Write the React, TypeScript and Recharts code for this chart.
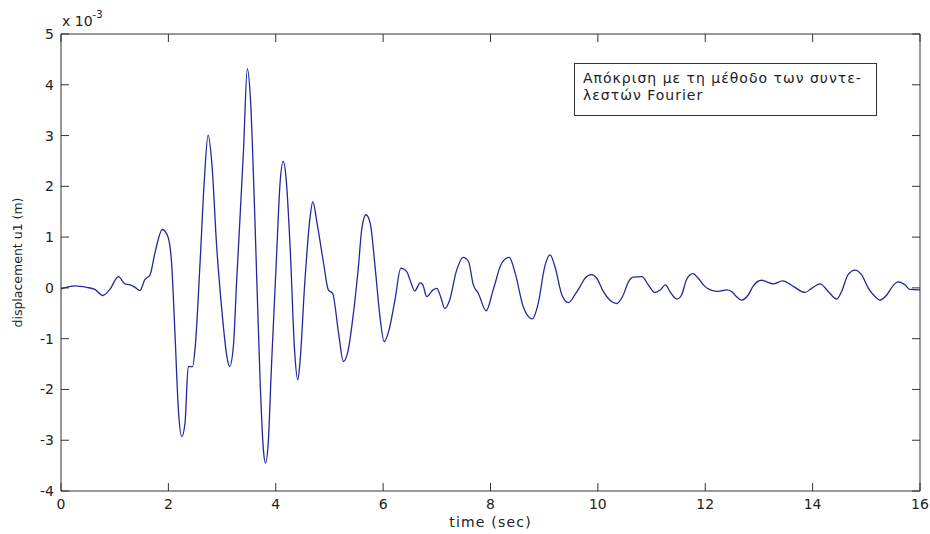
import React from 'react';
import { LineChart, Line, XAxis, YAxis, ReferenceLine, Label } from 'recharts';

// time (sec)
const TIME = [
  0, 0.26, 0.48, 0.63, 0.78, 0.91, 1.07, 1.19, 1.29, 1.38, 1.47, 1.56, 1.66, 1.75, 1.89, 1.99,
  2.06, 2.12, 2.19, 2.25, 2.31, 2.37, 2.45, 2.5, 2.59, 2.67, 2.74, 2.81, 2.9, 2.99, 3.09, 3.14,
  3.21, 3.27, 3.4, 3.47, 3.53, 3.61, 3.71, 3.77, 3.81, 3.86, 3.92, 4.02, 4.08, 4.14, 4.19, 4.27,
  4.35, 4.41, 4.45, 4.54, 4.64, 4.69, 4.77, 4.89, 4.98, 5.06, 5.17, 5.26, 5.35, 5.44, 5.54, 5.6,
  5.68, 5.76, 5.85, 5.94, 6.02, 6.11, 6.22, 6.33, 6.44, 6.5, 6.59, 6.69, 6.74, 6.81, 6.93, 7.0,
  7.07, 7.15, 7.23, 7.37, 7.49, 7.59, 7.68, 7.77, 7.92, 8.05, 8.21, 8.35, 8.46, 8.61, 8.78, 8.89,
  9.01, 9.11, 9.2, 9.33, 9.45, 9.57, 9.67, 9.76, 9.88, 9.98, 10.1, 10.23, 10.35, 10.46, 10.57,
  10.66, 10.82, 10.94, 11.06, 11.16, 11.26, 11.34, 11.47, 11.56, 11.65, 11.77, 11.87, 11.99,
  12.12, 12.24, 12.4, 12.49, 12.58, 12.68, 12.8, 12.89, 13.05, 13.27, 13.44, 13.64, 13.86, 13.98,
  14.14, 14.29, 14.45, 14.54, 14.66, 14.79, 14.91, 15.04, 15.16, 15.25, 15.38, 15.49, 15.59,
  15.72, 15.81, 16,
];

// displacement u1, in units of 10^-3 m
const DISP = [
  -0.02, 0.04, 0.01, -0.03, -0.15, -0.03, 0.22, 0.08, 0.06, 0.01, -0.05, 0.16, 0.26, 0.69, 1.15, 1.01,
  0.49, -0.83, -2.46, -2.93, -2.66, -1.55, -1.55, -1.16, 0.49, 2.13, 3.01, 2.45, 0.81, -0.37, -1.35, -1.55,
  -1.16, 0.1, 2.72, 4.32, 3.7, 1.4, -1.88, -3.19, -3.45, -3.05, -1.55, 0.75, 2.06, 2.49, 2.19, 0.75,
  -1.22, -1.81, -1.48, 0.09, 1.4, 1.7, 1.27, 0.49, -0.04, -0.11, -0.89, -1.45, -1.22, -0.56, 0.42, 1.14,
  1.44, 1.27, 0.42, -0.56, -1.06, -0.83, -0.24, 0.39, 0.32, 0.16, -0.06, 0.1, 0.06, -0.17, -0.04, -0.01,
  -0.17, -0.41, -0.27, 0.35, 0.6, 0.52, 0.06, -0.1, -0.45, -0.04, 0.49, 0.6, 0.29, -0.37, -0.61, -0.3,
  0.42, 0.65, 0.42, -0.14, -0.29, -0.14, 0.03, 0.19, 0.26, 0.19, -0.07, -0.25, -0.31, -0.17, 0.12,
  0.21, 0.22, 0.06, -0.09, -0.04, 0.06, -0.07, -0.22, -0.14, 0.16, 0.28, 0.19, 0.03,
  -0.05, -0.07, -0.04, -0.07, -0.17, -0.24, -0.14, 0.03, 0.15, 0.08, 0.14, 0.03, -0.09, -0.01,
  0.08, -0.07, -0.22, -0.07, 0.26, 0.35, 0.26, -0.01, -0.17, -0.24, -0.14, 0.03, 0.12,
  0.06, -0.03, -0.04,
];

const X_TICKS = [0, 2, 4, 6, 8, 10, 12, 14, 16];
const Y_TICKS = [-4, -3, -2, -1, 0, 1, 2, 3, 4, 5];
const NOTE_LINES = ['Απόκριση με τη μέθοδο των συντε-', 'λεστών Fourier'];

const W = 930;
const H = 534;
const PLOT_LEFT = 61;
const PLOT_RIGHT = 920;
const PLOT_TOP = 34;
const PLOT_BOTTOM = 491;
const TICK_LEN = 8;
const AXIS = '#333';
const FONT = "'DejaVu Sans', Arial, sans-serif";

const data = TIME.map((t, i) => ({ t, u: DISP[i] }));

const YTick = (props: any) => {
  const { x, y, payload } = props;
  return (
    <g>
      <line x1={PLOT_LEFT} x2={PLOT_LEFT + TICK_LEN} y1={y} y2={y} stroke={AXIS} />
      <line x1={PLOT_RIGHT} x2={PLOT_RIGHT - TICK_LEN} y1={y} y2={y} stroke={AXIS} />
      <text x={x} y={y} dy="0.36em" textAnchor="end" fontSize={14} fontFamily={FONT} fill="#222">
        {payload.value}
      </text>
    </g>
  );
};

const XTick = (props: any) => {
  const { x, y, payload } = props;
  return (
    <g>
      <line x1={x} x2={x} y1={PLOT_BOTTOM} y2={PLOT_BOTTOM - TICK_LEN} stroke={AXIS} />
      <line x1={x} x2={x} y1={PLOT_TOP} y2={PLOT_TOP + TICK_LEN} stroke={AXIS} />
      <text x={x} y={y} dy="0.72em" textAnchor="middle" fontSize={14} fontFamily={FONT} fill="#222">
        {payload.value}
      </text>
    </g>
  );
};

export default function App() {
  return (
    <div style={{ position: 'absolute', left: 0, top: 0, width: W, height: H, background: '#fff' }}>
      <LineChart
        width={W}
        height={H}
        data={data}
        margin={{ top: PLOT_TOP, right: W - PLOT_RIGHT, bottom: H - PLOT_BOTTOM - 26, left: PLOT_LEFT - 45 }}
      >
        <XAxis
          dataKey="t"
          type="number"
          domain={[0, 16]}
          ticks={X_TICKS}
          height={26}
          tickSize={0}
          tickMargin={8}
          tick={<XTick />}
          tickLine={false}
          axisLine={{ stroke: AXIS }}
          allowDataOverflow
        >
          <Label
            value="time (sec)"
            position="bottom"
            offset={0}
            style={{ fontSize: 14, fontFamily: FONT, fill: '#222', letterSpacing: 1.2 }}
          />
        </XAxis>
        <YAxis
          type="number"
          domain={[-4, 5]}
          ticks={Y_TICKS}
          width={45}
          tickSize={0}
          tickMargin={7}
          tick={<YTick />}
          tickLine={false}
          axisLine={{ stroke: AXIS }}
          allowDataOverflow
        >
          <Label
            value="displacement u1 (m)"
            angle={-90}
            position="insideLeft"
            offset={2}
            style={{ fontSize: 12.5, fontFamily: FONT, fill: '#222', textAnchor: 'middle' }}
          />
        </YAxis>
        <ReferenceLine y={5} stroke={AXIS} />
        <ReferenceLine x={16} stroke={AXIS} />
        <Line
          type="monotone"
          dataKey="u"
          stroke="#23289a"
          strokeWidth={1.3}
          dot={false}
          isAnimationActive={false}
        />
      </LineChart>

      <div
        style={{
          position: 'absolute',
          left: 62,
          top: 14,
          fontFamily: FONT,
          fontSize: 14,
          color: '#222',
          lineHeight: '14px',
          whiteSpace: 'nowrap',
        }}
      >
        x 10<sup style={{ fontSize: 10, verticalAlign: 'top', position: 'relative', top: -6 }}>-3</sup>
      </div>

      <div
        style={{
          position: 'absolute',
          left: 574,
          top: 63,
          width: 303,
          height: 53,
          boxSizing: 'border-box',
          border: `1px solid ${AXIS}`,
          background: '#fff',
          fontFamily: FONT,
          fontSize: 14,
          lineHeight: '17px',
          letterSpacing: 1,
          color: '#222',
          padding: '6px 0 0 8px',
          whiteSpace: 'nowrap',
        }}
      >
        {NOTE_LINES.map((l) => (
          <div key={l}>{l}</div>
        ))}
      </div>
    </div>
  );
}
